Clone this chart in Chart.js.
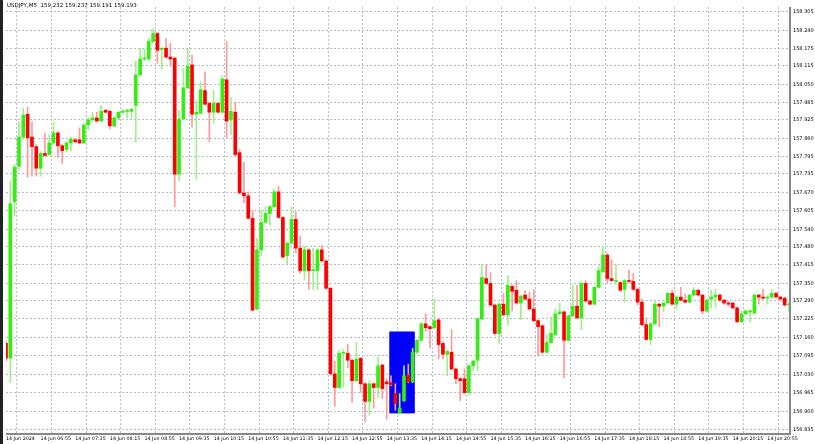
<!DOCTYPE html>
<html lang="en">
<head>
  <meta charset="UTF-8">
  <title>USDJPY,M5</title>
  <script src="https://cdn.jsdelivr.net/npm/chart.js"></script>
  <style>
    html, body { margin: 0; padding: 0; background: #fff; }
    #wrap { width: 815px; height: 444px; position: relative; border-left: 3px solid #222; box-sizing: border-box; }
  </style>
</head>
<body>
<div id="wrap"><canvas id="chart"></canvas></div>
<script>
  // OHLC, one 5-minute bar per entry, 14 Jun 2024 06:15 onwards
  const opens = [157.139,157.087,157.637,157.762,157.865,157.945,157.865,157.831,157.755,157.807,
    157.803,157.844,157.879,157.834,157.821,157.844,157.855,157.855,157.844,157.907,
    157.925,157.932,157.921,157.959,157.955,157.904,157.932,157.952,157.955,157.955,
    157.976,158.083,158.139,158.139,158.201,158.229,158.173,158.177,158.146,158.142,
    157.734,157.928,158.038,158.118,157.945,157.949,158.028,157.983,157.952,157.983,
    157.952,158.066,157.925,157.952,157.810,157.668,157.658,157.579,157.260,157.468,
    157.565,157.596,157.620,157.672,157.582,157.447,157.492,157.575,157.474,157.395,
    157.468,157.395,157.395,157.468,157.429,157.333,157.032,156.984,157.104,157.104,
    157.080,157.008,157.087,156.997,156.935,156.997,156.984,157.063,157.004,157.001,
    156.963,156.893,156.938,157.028,157.004,157.108,157.150,157.208,157.198,157.194,
    157.222,157.139,157.101,157.108,157.049,157.015,157.015,156.966,157.060,157.080,
    157.225,157.367,157.350,157.274,157.174,157.277,157.239,157.340,157.326,157.281,
    157.309,157.295,157.260,157.219,157.201,157.108,157.142,157.170,157.243,157.250,
    157.150,157.236,157.270,157.229,157.350,157.288,157.277,157.336,157.391,157.450,
    157.367,157.357,157.353,157.329,157.360,157.357,157.329,157.284,157.205,157.153,
    157.208,157.277,157.270,157.281,157.315,157.277,157.302,157.291,157.284,157.309,
    157.326,157.309,157.253,157.295,157.302,157.309,157.291,157.281,157.281,157.264,
    157.215,157.243,157.250,157.246,157.309,157.302,157.298,157.302,157.315,157.302,
    157.298,157.274];
  const highs = [157.146,157.710,157.769,157.918,157.966,157.969,157.918,157.838,157.814,157.879,
    157.872,157.918,157.886,157.838,157.848,157.865,157.858,157.897,157.914,157.932,
    157.952,157.952,157.976,157.962,157.959,157.935,157.955,157.962,157.962,157.966,
    158.132,158.177,158.173,158.211,158.246,158.232,158.180,158.211,158.194,158.146,
    157.959,158.107,158.173,158.153,157.993,158.059,158.094,157.987,158.028,157.987,
    158.080,158.201,158.004,157.987,157.821,157.776,157.672,157.606,157.509,157.606,
    157.620,157.623,157.682,157.692,157.585,157.495,157.620,157.603,157.516,157.481,
    157.471,157.474,157.471,157.485,157.433,157.336,157.077,157.115,157.118,157.135,
    157.084,157.142,157.090,157.001,157.008,157.001,157.090,157.066,157.015,157.025,
    156.997,156.963,157.060,157.066,157.122,157.153,157.212,157.243,157.201,157.295,
    157.225,157.146,157.115,157.187,157.053,157.018,157.049,157.063,157.080,157.229,
    157.416,157.416,157.388,157.277,157.281,157.315,157.378,157.343,157.360,157.309,
    157.326,157.319,157.329,157.222,157.205,157.170,157.232,157.260,157.281,157.253,
    157.239,157.343,157.343,157.357,157.360,157.291,157.340,157.412,157.481,157.454,
    157.433,157.416,157.357,157.364,157.398,157.385,157.333,157.295,157.225,157.212,
    157.291,157.281,157.284,157.319,157.326,157.305,157.336,157.312,157.312,157.336,
    157.329,157.312,157.295,157.326,157.329,157.312,157.295,157.288,157.284,157.267,
    157.253,157.257,157.257,157.312,157.312,157.329,157.305,157.329,157.319,157.305,
    157.302,157.284];
  const lows = [157.077,157.001,157.589,157.751,157.858,157.724,157.727,157.727,157.727,157.796,
    157.800,157.838,157.793,157.772,157.814,157.817,157.844,157.841,157.841,157.890,
    157.921,157.918,157.918,157.949,157.893,157.900,157.928,157.949,157.932,157.932,
    157.848,158.080,158.132,158.135,158.197,158.124,158.104,158.142,158.114,157.620,
    157.710,157.925,158.035,157.900,157.717,157.945,157.976,157.848,157.914,157.949,
    157.949,157.862,157.872,157.800,157.665,157.634,157.575,157.253,157.256,157.447,
    157.561,157.554,157.616,157.579,157.440,157.419,157.488,157.457,157.385,157.364,
    157.329,157.329,157.329,157.426,157.329,157.028,156.918,156.980,156.984,157.053,
    156.931,157.004,156.966,156.862,156.887,156.911,156.949,156.945,156.872,156.990,
    156.904,156.890,156.935,157.001,157.001,157.104,157.146,157.181,157.122,157.191,
    157.084,157.084,157.025,157.046,156.997,156.938,156.963,156.959,157.042,157.042,
    157.222,157.347,157.270,157.170,157.139,157.236,157.205,157.253,157.277,157.222,
    157.291,157.257,157.215,157.094,157.104,157.104,157.139,157.167,157.239,157.018,
    157.146,157.232,157.225,157.187,157.284,157.274,157.274,157.333,157.388,157.353,
    157.357,157.347,157.322,157.284,157.353,157.326,157.274,157.201,157.150,157.135,
    157.205,157.198,157.250,157.277,157.274,157.260,157.288,157.281,157.281,157.305,
    157.305,157.243,157.250,157.264,157.267,157.288,157.277,157.270,157.260,157.212,
    157.212,157.239,157.215,157.243,157.277,157.295,157.277,157.298,157.298,157.291,
    157.270,157.250];
  const closes = [157.087,157.630,157.759,157.865,157.942,157.862,157.831,157.755,157.807,157.800,
    157.844,157.879,157.834,157.817,157.844,157.858,157.848,157.844,157.907,157.925,
    157.932,157.921,157.955,157.952,157.904,157.932,157.952,157.955,157.959,157.962,
    158.083,158.139,158.142,158.201,158.229,158.170,158.177,158.146,158.139,157.734,
    157.928,158.038,158.114,157.945,157.952,158.031,157.980,157.952,157.983,157.952,
    158.069,157.921,157.955,157.803,157.668,157.658,157.579,157.256,157.468,157.565,
    157.596,157.620,157.672,157.582,157.443,157.492,157.575,157.474,157.395,157.468,
    157.395,157.398,157.468,157.429,157.333,157.032,156.984,157.104,157.108,157.080,
    157.008,157.084,156.997,156.935,156.997,156.984,157.060,156.980,156.997,156.994,
    156.928,156.911,157.025,157.004,157.108,157.150,157.208,157.194,157.191,157.219,
    157.135,157.101,157.111,157.049,157.015,157.008,156.966,157.060,157.077,157.225,
    157.371,157.350,157.274,157.174,157.277,157.239,157.343,157.322,157.281,157.305,
    157.295,157.260,157.219,157.198,157.108,157.142,157.174,157.243,157.250,157.150,
    157.236,157.270,157.229,157.350,157.288,157.277,157.336,157.395,157.450,157.367,
    157.360,157.360,157.326,157.360,157.357,157.329,157.284,157.205,157.153,157.208,
    157.277,157.270,157.281,157.315,157.277,157.302,157.291,157.284,157.309,157.326,
    157.309,157.253,157.291,157.302,157.309,157.291,157.281,157.277,157.264,157.215,
    157.243,157.253,157.253,157.309,157.302,157.298,157.302,157.315,157.302,157.295,
    157.274,157.277];

  // x axis labels, one every 8 bars
  const timeLabels = ['14 Jun 2024','14 Jun 06:55','14 Jun 07:35','14 Jun 08:15','14 Jun 08:55',
    '14 Jun 09:35','14 Jun 10:15','14 Jun 10:55','14 Jun 11:35','14 Jun 12:15','14 Jun 12:55',
    '14 Jun 13:35','14 Jun 14:15','14 Jun 14:55','14 Jun 15:35','14 Jun 16:15','14 Jun 16:55',
    '14 Jun 17:35','14 Jun 18:15','14 Jun 18:55','14 Jun 19:35','14 Jun 20:15','14 Jun 20:55'];
  const priceTicks = [158.305,158.240,158.175,158.115,158.050,157.985,157.925,157.860,157.795,
    157.735,157.670,157.605,157.540,157.480,157.415,157.350,157.290,157.225,157.160,157.095,
    157.030,156.965,156.900,156.835];
  const headerText = 'USDJPY,M5  159.232 159.237 159.191 159.193';

  // blue rectangle object (bar index range, price range)
  const boxBars = [88.6, 94.5];
  const boxPrices = [156.893, 157.181];

  const idx = opens.map((_, i) => i);
  const up = opens.map((o, i) => closes[i] >= o);

  const boxPlugin = {
    id: 'box',
    beforeDatasetsDraw(chart) {
      const { ctx, scales: { x, y } } = chart;
      const x0 = x.getPixelForValue(boxBars[0]), x1 = x.getPixelForValue(boxBars[1]);
      const y0 = y.getPixelForValue(boxPrices[1]), y1 = y.getPixelForValue(boxPrices[0]);
      ctx.save();
      ctx.fillStyle = '#0000ff';
      ctx.fillRect(x0, y0, x1 - x0, y1 - y0);
      ctx.restore();
    },
    afterDraw(chart) {
      const { ctx, chartArea: a } = chart;
      ctx.save();
      ctx.strokeStyle = '#888';
      ctx.lineWidth = 2;
      ctx.beginPath();
      ctx.moveTo(a.left, a.bottom + 1);
      ctx.lineTo(a.right + 1, a.bottom + 1);
      ctx.lineTo(a.right + 1, a.top);
      ctx.stroke();
      ctx.fillStyle = '#000';
      ctx.font = '5.5px "DejaVu Sans"';
      ctx.textBaseline = 'top';
      ctx.fillText(headerText, a.left + 1, 3);
      ctx.restore();
    }
  };

  new Chart(document.getElementById('chart'), {
    type: 'bar',
    data: {
      labels: idx,
      datasets: [
        {
          label: 'wick',
          data: idx.map(i => [lows[i], highs[i]]),
          backgroundColor: up.map(u => u ? '#9ff08a' : '#ff9a9a'),
          barThickness: 1,
          grouped: false,
          order: 2
        },
        {
          label: 'body',
          data: idx.map(i => [opens[i], closes[i]]),
          backgroundColor: up.map(u => u ? '#33ee11' : '#ff0000'),
          barThickness: 3,
          minBarLength: 1,
          grouped: false,
          order: 1
        }
      ]
    },
    options: {
      responsive: true,
      maintainAspectRatio: false,
      animation: false,
      layout: { padding: 0 },
      plugins: { legend: { display: false }, tooltip: { enabled: false } },
      scales: {
        x: {
          offset: false,
          grid: {
            color: ctx => (ctx.index % 8 === 3 ? '#b4bcc6' : 'rgba(0,0,0,0)'),
            drawTicks: false
          },
          border: { display: false, dash: [2, 2] },
          ticks: {
            autoSkip: false,
            maxRotation: 0,
            padding: 3,
            align: 'start',
            color: '#000',
            font: { family: 'DejaVu Sans', size: 4.8 },
            callback: (v, i) => (i % 8 === 0 ? timeLabels[i / 8] : '')
          },
          afterFit: s => { s.height = 11; }
        },
        y: {
          position: 'right',
          min: 156.824,
          max: 158.322,
          afterBuildTicks: s => { s.ticks = priceTicks.map(v => ({ value: v })); },
          grid: { color: '#b4bcc6', drawTicks: false },
          border: { display: false, dash: [2, 2] },
          ticks: {
            padding: 4,
            color: '#000',
            font: { family: 'DejaVu Sans', size: 5 },
            callback: v => Number(v).toFixed(3)
          },
          afterFit: s => { s.width = 26; }
        }
      }
    },
    plugins: [boxPlugin]
  });
</script>
</body>
</html>
